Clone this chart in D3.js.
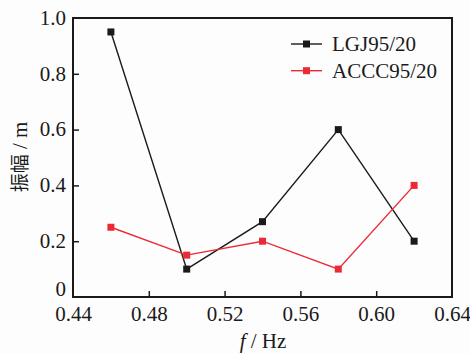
<!DOCTYPE html>
<html>
<head>
<meta charset="utf-8">
<script src="https://cdn.jsdelivr.net/npm/d3@7"></script>
<style>
  body { margin: 0; background: #fdfdfd; }
  svg { display: block; }
  text { font-family: "Liberation Serif", "DejaVu Serif", serif; fill: #1a1a1a; }
</style>
</head>
<body>
<div id="chart"></div>
<script>
// frequency (Hz)
const freqs = [0.46, 0.50, 0.54, 0.58, 0.62];
const lgjValues = [0.95, 0.10, 0.27, 0.60, 0.20];
const acccValues = [0.25, 0.15, 0.20, 0.10, 0.40];
const xTicks = [0.44, 0.48, 0.52, 0.56, 0.60, 0.64];
const yTicks = [0, 0.2, 0.4, 0.6, 0.8, 1.0];

const series = [
  { name: 'LGJ95/20', values: lgjValues, color: '#1a1a1a' },
  { name: 'ACCC95/20', values: acccValues, color: '#ec2a33' }
];

const width = 470, height = 354;
const margin = { top: 18, right: 18, bottom: 57, left: 73 };

const svg = d3.select('#chart').append('svg')
  .attr('width', width)
  .attr('height', height);

const x = d3.scaleLinear().domain([0.44, 0.64]).range([margin.left, width - margin.right]);
const y = d3.scaleLinear().domain([0, 1.0]).range([height - margin.bottom, margin.top]);

// frame
svg.append('rect')
  .attr('x', x(0.44)).attr('y', y(1.0))
  .attr('width', x(0.64) - x(0.44)).attr('height', y(0) - y(1.0))
  .attr('fill', 'none').attr('stroke', '#1a1a1a').attr('stroke-width', 2);

// axes with inward ticks
const xAxis = svg.append('g')
  .attr('transform', `translate(0,${y(0)})`)
  .call(d3.axisBottom(x).tickValues(xTicks).tickSize(-6).tickFormat(d3.format('.2f')));
const yAxis = svg.append('g')
  .attr('transform', `translate(${x(0.44)},0)`)
  .call(d3.axisLeft(y).tickValues(yTicks).tickSize(-6)
    .tickFormat(d => d === 0 ? '0' : d3.format('.1f')(d)));

[xAxis, yAxis].forEach(a => {
  a.select('.domain').remove();
  a.selectAll('.tick line').attr('stroke', '#1a1a1a').attr('stroke-width', 1.5);
  a.selectAll('.tick text')
    .attr('font-family', '"Liberation Serif", serif')
    .attr('font-size', 21)
    .attr('fill', '#1a1a1a');
});
// hide end ticks on the frame corners
xAxis.selectAll('.tick line').filter(d => d === 0.44 || d === 0.64).remove();
yAxis.selectAll('.tick line').filter(d => d === 0 || d === 1.0).remove();
xAxis.selectAll('.tick text').attr('dy', null).attr('y', 24);
yAxis.selectAll('.tick text').attr('x', -7).attr('dy', '0.3em');
yAxis.selectAll('.tick text').filter(d => d === 0).attr('dy', '-0.06em');

const line = d3.line()
  .x((d, i) => x(freqs[i]))
  .y(d => y(d));

const ms = 7;
series.forEach(s => {
  svg.append('path')
    .datum(s.values)
    .attr('d', line)
    .attr('fill', 'none')
    .attr('stroke', s.color)
    .attr('stroke-width', 1.4);
  svg.append('g').selectAll('rect')
    .data(s.values)
    .join('rect')
    .attr('x', (d, i) => x(freqs[i]) - ms / 2)
    .attr('y', d => y(d) - ms / 2)
    .attr('width', ms).attr('height', ms)
    .attr('fill', s.color);
});

// legend
const legend = svg.append('g').attr('transform', 'translate(291,44)');
series.forEach((s, i) => {
  const g = legend.append('g').attr('transform', `translate(0,${i * 26.7})`);
  g.append('line').attr('x1', 0).attr('x2', 31).attr('y1', 0).attr('y2', 0)
    .attr('stroke', s.color).attr('stroke-width', 1.4);
  g.append('rect').attr('x', 15.5 - ms / 2).attr('y', -ms / 2)
    .attr('width', ms).attr('height', ms).attr('fill', s.color);
  g.append('text').attr('x', 41).attr('y', 0).attr('dy', '0.35em')
    .attr('font-size', 21).text(s.name);
});

// axis titles
const xt = svg.append('text')
  .attr('x', 263).attr('y', 348)
  .attr('text-anchor', 'middle')
  .attr('font-size', 21);
xt.append('tspan').attr('font-style', 'italic').text('f');
xt.append('tspan').text(' / Hz');

const yt = svg.append('text')
  .attr('transform', 'translate(27,157) rotate(-90)')
  .attr('text-anchor', 'middle')
  .attr('font-size', 21);
yt.append('tspan')
  .attr('font-family', '"Noto Sans CJK SC", sans-serif')
  .attr('font-size', 19)
  .text('振幅');
yt.append('tspan').text(' / m');
</script>
</body>
</html>
